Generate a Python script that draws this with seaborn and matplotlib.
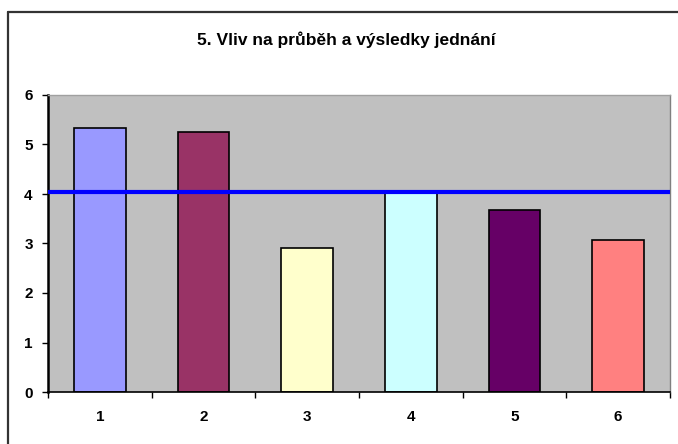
import matplotlib
matplotlib.use("Agg")
import matplotlib.pyplot as plt
import seaborn as sns
import pandas as pd
from matplotlib.lines import Line2D

# data
categories = ["1", "2", "3", "4", "5", "6"]
values = [5.34, 5.25, 2.90, 4.02, 3.67, 3.07]
average = 4.04
bar_colors = ["#9999FF", "#993366", "#FFFFCC", "#CCFFFF", "#660066", "#FF8080"]
title = "5. Vliv na průběh a výsledky jednání"

sns.set_style("white")
plt.rcParams["font.family"] = ["Liberation Sans", "DejaVu Sans"]

df = pd.DataFrame({"Cat": categories, "Val": values})

fig = plt.figure(figsize=(6.78, 4.44), dpi=100)
ax = fig.add_axes([48 / 678, 52 / 444, 622 / 678, 297 / 444])
ax.set_facecolor("#C0C0C0")

sns.barplot(x="Cat", y="Val", data=df, hue="Cat", palette=bar_colors,
            legend=False, width=0.5, edgecolor="black", linewidth=1.2,
            saturation=1, ax=ax, zorder=2)
ax.axhline(average, color="#0000FF", linewidth=3, zorder=3)

ax.set_xlim(-0.5, len(categories) - 0.5)
ax.set_ylim(0, 6)
ax.set_yticks(range(7))
ax.set_xlabel("")
ax.set_ylabel("")

# ticks between categories like excel
ax.set_xticks([i - 0.5 for i in range(len(categories) + 1)], minor=True)
ax.tick_params(axis="x", which="major", bottom=True, length=0, pad=13, labelsize=11,
               labelcolor="black")
ax.tick_params(axis="x", which="minor", bottom=True, length=4, width=1, direction="out",
               color="black")
ax.tick_params(axis="y", left=True, length=4, width=1, direction="out", color="black", pad=7,
               labelsize=11, labelcolor="black")
for lab in ax.get_xticklabels() + ax.get_yticklabels():
    lab.set_fontweight("bold")

ax.spines["left"].set_color("black")
ax.spines["left"].set_linewidth(1.8)
ax.spines["bottom"].set_color("black")
ax.spines["bottom"].set_linewidth(1.2)
ax.spines["top"].set_color("#A0A0A0")
ax.spines["top"].set_linewidth(1)
ax.spines["right"].set_color("#808080")
ax.spines["right"].set_linewidth(1)

fig.text(0.5 + 7 / 678, 1 - 40 / 444, title, ha="center", va="center",
         fontsize=12.5, fontweight="bold", color="black")

# chart frame (left and top edges visible)
fig.add_artist(Line2D([8 / 678, 8 / 678], [0, 1 - 12 / 444], transform=fig.transFigure,
                      color="#333333", linewidth=1.6))
fig.add_artist(Line2D([8 / 678, 1], [1 - 12 / 444, 1 - 12 / 444], transform=fig.transFigure,
                      color="#333333", linewidth=1.6))

fig.savefig("out.png", dpi=100)
